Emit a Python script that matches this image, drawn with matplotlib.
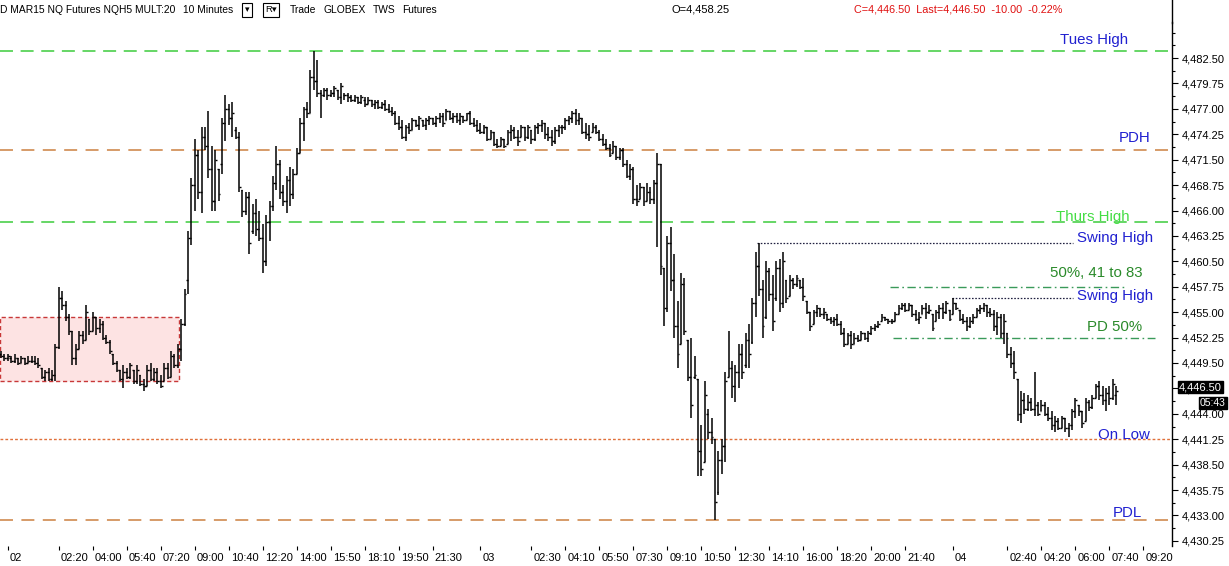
import matplotlib
matplotlib.use("Agg")
import matplotlib.pyplot as plt
import matplotlib.transforms as mtransforms
from matplotlib.lines import Line2D
from matplotlib.patches import Rectangle

plt.rcParams["font.family"] = ["Liberation Sans", "DejaVu Sans"]

# 10 minute bars, NQ Mar15
opens = [
    4450.5, 4450.25, 4450.0, 4450.0, 4449.75, 4450.0, 4449.5, 4450.0, 4449.5, 4449.75,
    4449.75, 4449.5, 4449.0, 4448.0, 4448.5, 4447.75, 4448.25, 4451.25, 4456.5, 4455.75,
    4454.5, 4453.0, 4450.0, 4451.0, 4452.5, 4452.0, 4454.25, 4453.0, 4454.5, 4453.25,
    4453.75, 4452.25, 4451.75, 4450.5, 4449.5, 4448.75, 4447.75, 4448.5, 4448.0, 4448.75,
    4447.5, 4448.25, 4447.25, 4447.0, 4448.75, 4447.75, 4448.5, 4447.5, 4447.5, 4449.0,
    4448.0, 4450.25, 4449.25, 4451.0, 4453.75, 4458.5, 4463.0, 4468.75, 4472.0, 4468.0,
    4474.0, 4473.0, 4470.5, 4467.0, 4470.5, 4471.0, 4475.5, 4477.0, 4476.0, 4474.75,
    4474.0, 4468.25, 4466.0, 4467.5, 4463.75, 4465.75, 4464.0, 4463.0, 4460.5, 4464.75,
    4466.5, 4469.0, 4471.0, 4468.0, 4467.0, 4469.25, 4467.75, 4470.0, 4472.25, 4475.5,
    4477.0, 4476.5, 4480.5, 4480.0, 4478.75, 4478.5, 4479.0, 4478.5, 4478.75, 4479.0,
    4478.25, 4478.5, 4478.5, 4478.25, 4478.0, 4478.25, 4477.75, 4478.0, 4477.5, 4478.0,
    4477.5, 4477.75, 4477.25, 4477.5, 4477.0, 4476.75, 4476.5, 4475.5, 4475.0, 4474.0,
    4475.0, 4474.75, 4475.75, 4475.25, 4475.75, 4475.25, 4475.75, 4476.0, 4475.5, 4476.0,
    4476.25, 4475.75, 4476.75, 4476.0, 4476.25, 4475.75, 4476.25, 4475.75, 4476.5, 4475.5,
    4475.25, 4474.75, 4474.5, 4475.0, 4473.75, 4474.5, 4473.25, 4473.0, 4473.75, 4473.25,
    4474.5, 4474.75, 4474.0, 4474.0, 4475.0, 4474.0, 4474.75, 4473.75, 4475.0, 4475.25,
    4475.5, 4474.25, 4474.0, 4473.5, 4474.75, 4475.0, 4475.0, 4475.75, 4476.0, 4476.5,
    4475.75, 4476.0, 4474.5, 4474.25, 4474.5, 4475.0, 4474.5, 4473.75, 4473.25, 4472.75,
    4472.25, 4473.0, 4471.75, 4472.5, 4471.0, 4469.75, 4470.5, 4467.25, 4467.25, 4468.5,
    4467.0, 4468.0, 4467.25, 4469.0, 4471.0, 4459.75, 4455.5, 4462.5, 4458.5, 4453.5,
    4451.5, 4458.0, 4452.0, 4448.0, 4448.0, 4447.75, 4440.0, 4438.75, 4444.0, 4442.0,
    4441.25, 4435.5, 4439.0, 4440.5, 4448.0, 4449.0, 4447.0, 4448.5, 4450.5, 4449.25,
    4452.0, 4451.75, 4456.0, 4460.0, 4457.5, 4454.5, 4459.5, 4457.0, 4456.5, 4459.75,
    4456.0, 4458.5, 4456.75, 4458.5, 4458.0, 4458.5, 4457.75, 4456.25, 4455.0, 4453.75,
    4455.0, 4455.5, 4454.75, 4454.75, 4454.25, 4454.0, 4454.25, 4453.75, 4452.75, 4451.5,
    4452.5, 4451.5, 4452.25, 4452.0, 4452.75, 4452.25, 4452.75, 4453.25, 4453.5, 4454.0,
    4454.5, 4454.25, 4454.0, 4454.0, 4454.75, 4455.5, 4455.75, 4455.25, 4455.75, 4454.75,
    4454.25, 4454.75, 4455.5, 4455.0, 4454.75, 4454.0, 4455.0, 4455.5, 4455.0, 4455.25,
    4454.75, 4456.0, 4455.25, 4454.25, 4454.0, 4453.5, 4454.0, 4454.5, 4455.25, 4455.5,
    4455.75, 4455.0, 4454.75, 4453.5, 4454.5, 4452.75, 4452.75, 4450.5, 4449.5, 4447.75,
    4444.0, 4445.5, 4444.5, 4445.25, 4444.5, 4445.0, 4444.25, 4445.0, 4444.0, 4443.5,
    4442.75, 4443.25, 4442.5, 4443.5, 4442.5, 4442.75, 4444.25, 4445.0, 4444.25, 4443.25,
    4445.25, 4444.75, 4445.75, 4447.0, 4446.0, 4445.5, 4446.25, 4445.75, 4446.0,
]
highs = [
    4450.75, 4450.5, 4450.5, 4450.25, 4450.5, 4450.0, 4450.25, 4450.0, 4450.25, 4450.25,
    4450.25, 4450.0, 4449.0, 4448.75, 4449.0, 4448.75, 4451.5, 4457.75, 4457.25, 4456.25,
    4454.75, 4453.0, 4451.5, 4453.0, 4453.0, 4455.75, 4454.25, 4455.0, 4454.5, 4454.25,
    4454.0, 4452.5, 4452.0, 4450.5, 4449.75, 4448.75, 4449.25, 4449.0, 4449.5, 4448.75,
    4449.25, 4448.25, 4447.75, 4449.25, 4449.5, 4449.0, 4449.0, 4448.25, 4449.5, 4449.5,
    4450.75, 4450.5, 4451.5, 4454.25, 4457.5, 4463.75, 4469.5, 4473.75, 4472.5, 4475.0,
    4475.0, 4476.75, 4473.0, 4472.5, 4470.5, 4476.0, 4478.5, 4477.5, 4477.75, 4475.0,
    4474.5, 4468.25, 4468.0, 4468.0, 4466.75, 4467.25, 4466.0, 4464.5, 4465.5, 4467.0,
    4469.75, 4473.0, 4471.5, 4468.75, 4469.75, 4470.75, 4470.5, 4472.75, 4476.0, 4477.25,
    4477.75, 4481.25, 4483.25, 4482.25, 4479.0, 4479.25, 4479.25, 4479.0, 4479.5, 4479.0,
    4479.75, 4478.75, 4478.75, 4478.5, 4478.5, 4478.25, 4478.5, 4478.25, 4478.25, 4478.0,
    4478.0, 4478.0, 4477.75, 4478.0, 4477.5, 4477.25, 4476.75, 4476.25, 4475.75, 4475.25,
    4475.5, 4476.0, 4475.75, 4476.25, 4475.75, 4476.0, 4476.25, 4476.0, 4476.25, 4476.5,
    4476.5, 4477.0, 4476.75, 4476.5, 4476.5, 4476.5, 4476.25, 4476.5, 4476.75, 4476.0,
    4475.75, 4475.5, 4475.25, 4475.0, 4474.75, 4474.5, 4473.75, 4474.0, 4473.75, 4474.75,
    4475.25, 4475.0, 4474.75, 4475.25, 4475.0, 4475.25, 4474.75, 4475.25, 4475.5, 4475.75,
    4475.5, 4475.0, 4474.75, 4475.0, 4475.25, 4475.25, 4476.0, 4476.25, 4476.75, 4477.0,
    4476.5, 4476.0, 4475.5, 4475.25, 4475.5, 4475.25, 4474.75, 4474.25, 4473.75, 4473.25,
    4473.5, 4473.0, 4472.75, 4472.75, 4471.5, 4471.0, 4470.75, 4468.75, 4469.0, 4468.5,
    4469.0, 4468.5, 4469.25, 4472.25, 4471.0, 4459.75, 4463.25, 4464.25, 4461.25, 4456.25,
    4459.25, 4458.75, 4452.0, 4452.25, 4450.25, 4447.75, 4442.75, 4447.5, 4444.5, 4443.5,
    4441.25, 4440.0, 4441.25, 4448.5, 4453.0, 4449.75, 4449.25, 4451.5, 4451.5, 4452.75,
    4453.75, 4456.5, 4461.5, 4462.5, 4458.5, 4460.5, 4459.75, 4459.0, 4460.5, 4460.75,
    4461.5, 4458.5, 4459.0, 4458.75, 4459.0, 4458.5, 4458.75, 4456.25, 4455.0, 4455.25,
    4455.75, 4455.5, 4455.5, 4454.75, 4454.5, 4454.5, 4454.75, 4454.0, 4453.25, 4452.75,
    4453.0, 4452.75, 4452.5, 4453.0, 4452.75, 4453.0, 4453.5, 4453.75, 4454.0, 4454.75,
    4454.5, 4454.25, 4454.25, 4455.0, 4455.75, 4456.0, 4456.0, 4456.0, 4455.75, 4455.25,
    4455.0, 4455.75, 4456.0, 4455.75, 4454.75, 4455.25, 4455.75, 4456.0, 4456.25, 4455.25,
    4456.5, 4456.0, 4455.25, 4454.75, 4454.5, 4454.5, 4454.75, 4455.5, 4455.75, 4456.0,
    4455.75, 4455.5, 4455.25, 4455.0, 4454.75, 4454.75, 4452.75, 4451.25, 4450.75, 4447.75,
    4446.5, 4446.25, 4446.0, 4445.75, 4448.5, 4445.25, 4445.5, 4445.25, 4444.75, 4444.25,
    4443.75, 4443.5, 4443.75, 4443.5, 4443.0, 4444.5, 4445.75, 4445.0, 4444.25, 4445.75,
    4445.5, 4446.0, 4447.25, 4447.5, 4447.0, 4446.75, 4447.0, 4447.75, 4447.0,
]
lows = [
    4450.0, 4449.75, 4449.75, 4449.5, 4449.5, 4449.25, 4449.5, 4449.25, 4449.5, 4449.5,
    4449.25, 4449.0, 4447.75, 4447.5, 4447.5, 4447.5, 4447.5, 4451.0, 4455.25, 4454.0,
    4452.5, 4449.25, 4449.25, 4451.0, 4451.5, 4452.0, 4452.5, 4453.0, 4452.5, 4452.75,
    4452.0, 4451.5, 4450.5, 4449.25, 4448.5, 4447.5, 4446.75, 4447.75, 4447.75, 4447.25,
    4447.25, 4447.0, 4446.5, 4447.0, 4447.5, 4447.5, 4447.25, 4446.75, 4447.5, 4447.75,
    4448.0, 4449.0, 4449.0, 4449.75, 4453.5, 4457.0, 4462.25, 4466.0, 4467.25, 4465.75,
    4472.5, 4469.5, 4466.0, 4466.0, 4467.0, 4470.0, 4473.5, 4475.25, 4474.0, 4473.75,
    4468.0, 4465.25, 4465.5, 4461.25, 4463.5, 4463.25, 4462.75, 4459.25, 4460.0, 4462.75,
    4466.0, 4468.25, 4467.25, 4466.5, 4465.75, 4466.5, 4467.25, 4470.0, 4472.25, 4473.5,
    4476.0, 4476.5, 4479.0, 4478.25, 4476.0, 4478.25, 4478.0, 4478.25, 4478.25, 4478.0,
    4477.5, 4478.0, 4477.75, 4477.75, 4477.75, 4477.5, 4477.5, 4477.25, 4477.5, 4477.25,
    4477.0, 4477.0, 4477.0, 4476.75, 4476.5, 4476.25, 4475.25, 4474.75, 4473.75, 4473.5,
    4474.25, 4474.75, 4475.0, 4474.75, 4475.0, 4474.75, 4475.25, 4475.25, 4475.0, 4475.5,
    4475.0, 4475.75, 4475.75, 4475.5, 4475.5, 4475.25, 4475.5, 4475.75, 4475.25, 4475.0,
    4474.5, 4474.25, 4474.25, 4473.5, 4473.75, 4473.0, 4472.75, 4473.0, 4472.75, 4473.25,
    4473.5, 4473.75, 4473.0, 4474.0, 4473.5, 4473.75, 4473.25, 4473.5, 4474.25, 4474.5,
    4473.75, 4473.5, 4473.0, 4473.25, 4474.0, 4474.25, 4474.75, 4475.25, 4475.5, 4475.25,
    4475.25, 4474.25, 4473.75, 4473.5, 4474.5, 4474.25, 4473.5, 4473.0, 4472.5, 4471.75,
    4472.25, 4471.5, 4471.5, 4470.75, 4469.5, 4469.25, 4466.75, 4466.5, 4467.25, 4466.5,
    4467.0, 4466.75, 4466.75, 4462.0, 4459.0, 4453.5, 4455.0, 4457.25, 4452.25, 4449.0,
    4451.5, 4452.5, 4447.5, 4443.5, 4447.75, 4437.25, 4437.25, 4438.75, 4441.25, 4440.75,
    4432.5, 4435.25, 4437.5, 4438.75, 4448.0, 4445.75, 4445.25, 4446.75, 4447.75, 4449.0,
    4449.0, 4451.5, 4454.5, 4456.75, 4452.25, 4454.25, 4456.25, 4453.0, 4456.25, 4455.0,
    4455.5, 4456.0, 4456.75, 4457.5, 4457.75, 4457.5, 4456.25, 4454.75, 4453.0, 4453.75,
    4454.5, 4454.5, 4454.25, 4454.0, 4453.75, 4453.5, 4453.5, 4452.5, 4451.25, 4451.5,
    4451.0, 4451.5, 4451.75, 4452.0, 4452.0, 4451.75, 4452.5, 4453.0, 4453.25, 4454.0,
    4454.0, 4453.75, 4453.75, 4454.0, 4454.75, 4455.25, 4455.0, 4455.25, 4454.5, 4454.0,
    4453.75, 4454.75, 4454.25, 4454.75, 4453.0, 4454.0, 4454.25, 4454.25, 4454.75, 4454.0,
    4454.75, 4455.25, 4454.0, 4453.75, 4453.0, 4453.25, 4453.75, 4454.5, 4454.75, 4455.0,
    4454.5, 4454.5, 4453.0, 4452.5, 4452.25, 4451.5, 4450.0, 4449.0, 4447.75, 4443.25,
    4443.0, 4444.0, 4444.25, 4444.25, 4443.75, 4443.75, 4444.25, 4443.75, 4443.25, 4442.25,
    4442.0, 4442.25, 4442.5, 4442.0, 4441.5, 4442.25, 4443.5, 4443.75, 4442.5, 4443.25,
    4444.25, 4444.5, 4445.75, 4445.5, 4445.0, 4444.25, 4445.0, 4445.5, 4445.0,
]
closes = [
    4450.25, 4450.0, 4450.25, 4449.75, 4450.0, 4449.5, 4450.0, 4449.5, 4449.75, 4449.75,
    4449.5, 4449.25, 4448.0, 4448.5, 4447.75, 4448.25, 4451.25, 4456.5, 4455.75, 4454.5,
    4453.0, 4450.0, 4451.0, 4452.5, 4452.0, 4455.0, 4453.0, 4454.5, 4453.25, 4453.75,
    4452.25, 4451.75, 4450.75, 4449.5, 4448.75, 4447.75, 4448.5, 4448.0, 4449.25, 4447.5,
    4448.75, 4447.25, 4447.0, 4448.75, 4447.75, 4448.5, 4447.5, 4447.0, 4449.0, 4448.0,
    4450.25, 4449.25, 4451.0, 4453.75, 4457.0, 4463.0, 4468.75, 4472.0, 4468.0, 4474.0,
    4473.0, 4470.5, 4467.0, 4471.5, 4467.75, 4475.5, 4477.0, 4476.0, 4476.5, 4474.0,
    4468.5, 4466.0, 4467.5, 4462.5, 4465.75, 4464.0, 4463.0, 4460.5, 4464.75, 4466.5,
    4469.0, 4471.0, 4468.0, 4467.0, 4469.25, 4467.75, 4470.0, 4472.25, 4475.5, 4477.0,
    4476.5, 4480.5, 4480.0, 4478.75, 4478.5, 4479.0, 4478.5, 4478.75, 4479.25, 4478.25,
    4479.5, 4478.5, 4478.25, 4478.0, 4478.25, 4477.75, 4478.25, 4477.5, 4478.0, 4477.5,
    4477.75, 4477.25, 4477.5, 4477.0, 4476.75, 4476.5, 4475.5, 4475.0, 4474.0, 4475.0,
    4474.75, 4475.75, 4475.25, 4476.0, 4475.25, 4475.75, 4476.0, 4475.5, 4476.0, 4476.25,
    4475.5, 4476.75, 4476.0, 4476.25, 4475.75, 4476.25, 4475.75, 4476.5, 4475.5, 4475.25,
    4474.75, 4474.5, 4475.0, 4473.75, 4474.5, 4473.25, 4473.0, 4473.75, 4473.0, 4474.5,
    4474.75, 4474.0, 4473.5, 4475.0, 4474.0, 4475.0, 4473.75, 4475.0, 4475.25, 4475.5,
    4474.25, 4474.0, 4473.5, 4474.75, 4475.0, 4475.0, 4475.75, 4476.0, 4476.5, 4475.75,
    4476.0, 4474.5, 4474.25, 4474.0, 4475.0, 4474.5, 4473.75, 4473.25, 4472.75, 4472.0,
    4473.0, 4471.75, 4472.5, 4471.0, 4469.75, 4470.5, 4467.25, 4467.0, 4468.5, 4467.0,
    4468.0, 4467.25, 4469.0, 4471.0, 4460.0, 4455.5, 4462.5, 4458.5, 4453.5, 4450.5,
    4458.0, 4453.0, 4448.0, 4445.0, 4448.25, 4440.0, 4438.0, 4446.0, 4442.0, 4441.5,
    4434.5, 4439.0, 4440.5, 4447.5, 4449.0, 4447.0, 4448.5, 4450.5, 4448.5, 4452.0,
    4450.5, 4456.0, 4460.0, 4457.5, 4453.5, 4459.5, 4457.0, 4454.0, 4459.75, 4456.0,
    4460.5, 4456.5, 4458.5, 4458.0, 4458.75, 4457.75, 4456.75, 4455.0, 4453.5, 4455.0,
    4455.5, 4454.75, 4455.0, 4454.25, 4454.0, 4454.25, 4453.75, 4452.75, 4451.5, 4452.5,
    4451.5, 4452.25, 4452.0, 4452.75, 4452.25, 4452.75, 4453.25, 4453.5, 4453.75, 4454.5,
    4454.25, 4454.0, 4454.0, 4454.75, 4455.5, 4455.75, 4455.25, 4455.75, 4454.75, 4454.25,
    4454.5, 4455.5, 4455.0, 4455.25, 4453.25, 4455.0, 4455.5, 4455.0, 4456.0, 4454.25,
    4456.0, 4455.5, 4454.25, 4454.0, 4453.5, 4454.0, 4454.5, 4455.25, 4455.5, 4455.75,
    4455.0, 4454.75, 4453.5, 4454.5, 4452.75, 4454.0, 4450.5, 4449.5, 4448.5, 4444.0,
    4445.5, 4444.5, 4445.25, 4444.5, 4445.0, 4444.0, 4445.0, 4444.0, 4443.5, 4442.75,
    4443.25, 4442.5, 4443.5, 4442.5, 4442.75, 4444.25, 4445.5, 4444.25, 4443.0, 4445.25,
    4444.75, 4445.75, 4447.0, 4446.0, 4445.5, 4446.25, 4445.75, 4447.25, 4446.5,
]

# time axis labels (bar index of each label)
tick_pos = [2, 17, 27, 37, 47, 57, 67, 77, 87, 97, 107, 117, 127, 141,
            156, 166, 176, 186, 196, 206, 216, 226, 236, 246, 256, 266, 280,
            296, 306, 316, 326, 336]
tick_labels = ["02", "02:20", "04:00", "05:40", "07:20", "09:00", "10:40", "12:20",
               "14:00", "15:50", "18:10", "19:50", "21:30", "03",
               "02:30", "04:10", "05:50", "07:30", "09:10", "10:50", "12:30", "14:10",
               "16:00", "18:20", "20:00", "21:40", "04",
               "02:40", "04:20", "06:00", "07:40", "09:20"]

# reference levels
tues_high = 4483.25
pdh = 4472.5
thurs_high = 4464.75
swing_high_1 = 4462.5
fifty_41_83 = 4457.75
swing_high_2 = 4456.5
pd_50 = 4452.25
on_low = 4441.25
pdl = 4432.5

# overnight range box
box_top = 4454.5
box_bottom = 4447.5

last_price = 4446.50

fig = plt.figure(figsize=(12.29, 5.66), dpi=100)
ax = fig.add_axes([0.0, 0.0353, 0.9536, 0.9258])
ax.set_xlim(-0.3, 344.4)
ax.set_ylim(4429.69, 4486.4)

n = len(highs)
xs = list(range(n))

# overnight box
ax.add_patch(Rectangle((-0.3, box_bottom), 52.7, box_top - box_bottom,
                       facecolor="#fde3e3", edgecolor="#c83838", lw=1.0,
                       linestyle=(0, (3, 2)), zorder=1))

# level lines
full = (-0.3, 344.4)
ax.plot(full, [tues_high] * 2, color="#3ccc3c", lw=1.1, dashes=(8.5, 5), zorder=2)
ax.plot(full, [thurs_high] * 2, color="#3ccc3c", lw=1.1, dashes=(8.5, 5), zorder=2)
ax.plot(full, [pdh] * 2, color="#cc8040", lw=1.1, dashes=(8.5, 5.5), zorder=2)
ax.plot(full, [pdl] * 2, color="#cc8040", lw=1.1, dashes=(8.5, 5.5), zorder=2)
ax.plot(full, [on_low] * 2, color="#e0703a", lw=1.0, dashes=(2, 1.5), zorder=2)
ax.plot([222.4, 315.3], [swing_high_1] * 2, color="#202040", lw=0.9, dashes=(1.3, 1.3), zorder=2)
ax.plot([279.7, 315.3], [swing_high_2] * 2, color="#202040", lw=0.9, dashes=(1.3, 1.3), zorder=2)
ax.plot([261.5, 330.6], [fifty_41_83] * 2, color="#3a9a5a", lw=1.0, dashes=(6, 2.5, 1.2, 2.5), zorder=2)
ax.plot([262.4, 339.4], [pd_50] * 2, color="#3a9a5a", lw=1.0, dashes=(6, 2.5, 1.2, 2.5), zorder=2)

# OHLC bars
ax.vlines(xs, lows, highs, color="black", lw=1.1, zorder=3)
ax.hlines(opens, [x - 0.55 for x in xs], xs, color="black", lw=1.0, zorder=3)
ax.hlines(closes, xs, [x + 0.55 for x in xs], color="black", lw=1.0, zorder=3)

# level labels
lab_fs = 10.8
blue = "#2020d0"
ax.text(331.5, 4484.45, "Tues High", color=blue, fontsize=lab_fs, ha="right", va="center")
ax.text(338.0, 4473.84, "PDH", color=blue, fontsize=lab_fs, ha="right", va="center")
ax.text(332.0, 4465.29, "Thurs High", color="#44dd44", fontsize=lab_fs, ha="right", va="center")
ax.text(338.8, 4463.02, "Swing High", color=blue, fontsize=lab_fs, ha="right", va="center")
ax.text(335.6, 4459.23, "50%, 41 to 83", color="#2a8a2a", fontsize=lab_fs, ha="right", va="center")
ax.text(338.8, 4456.74, "Swing High", color=blue, fontsize=lab_fs, ha="right", va="center")
ax.text(335.6, 4453.39, "PD 50%", color="#2a8a2a", fontsize=lab_fs, ha="right", va="center")
ax.text(338.0, 4441.70, "On Low", color=blue, fontsize=lab_fs, ha="right", va="center")
ax.text(335.6, 4433.26, "PDL", color=blue, fontsize=lab_fs, ha="right", va="center")

# axes styling
for side in ["top", "left", "bottom"]:
    ax.spines[side].set_visible(False)
ax.spines["right"].set_color("black")
ax.spines["right"].set_linewidth(1.0)

ax.yaxis.tick_right()
yt = [4430.25 + 2.75 * k for k in range(20)]
ax.set_yticks(yt)
ax.set_yticklabels([f"{v:,.2f}" for v in yt])
ax.set_yticks([4430.25 + 1.375 * k for k in range(41)], minor=True)
ax.tick_params(axis="y", which="major", length=4, width=0.8, pad=3, labelsize=8, colors="black")
ax.tick_params(axis="y", which="minor", length=2, width=0.8)

ax.set_xticks(tick_pos)
ax.set_xticklabels(tick_labels, ha="left")
ax.tick_params(axis="x", length=3, width=0.8, pad=2, labelsize=8)
shift = mtransforms.ScaledTranslation(2 / 100, 0, fig.dpi_scale_trans)
for lbl in ax.get_xticklabels():
    lbl.set_transform(lbl.get_transform() + shift)

# axis line continues into header
fig.add_artist(Line2D([0.9536, 0.9536], [0.96, 1.0], color="black", lw=1.0))

# header
hy = 1 - 10 / 566
hfs = 7.4
fig.text(0.0, hy, "D MAR15 NQ Futures NQH5 MULT:20", fontsize=hfs, va="center")
fig.text(183 / 1229, hy, "10 Minutes", fontsize=hfs, va="center")
fig.text(245 / 1229, hy, "▾", fontsize=6.5, va="center",
         bbox=dict(boxstyle="square,pad=0.3", fc="white", ec="black", lw=0.8))
fig.text(265 / 1229, hy, "R▾", fontsize=6.8, va="center",
         bbox=dict(boxstyle="square,pad=0.25", fc="white", ec="black", lw=0.8))
fig.text(290 / 1229, hy, "Trade", fontsize=hfs, va="center")
fig.text(324 / 1229, hy, "GLOBEX", fontsize=hfs, va="center")
fig.text(373 / 1229, hy, "TWS", fontsize=hfs, va="center")
fig.text(402 / 1229, hy, "Futures", fontsize=hfs, va="center")
fig.text(671 / 1229, hy, "O=4,458.25", fontsize=8, va="center")
fig.text(854 / 1229, hy, "C=4,446.50  Last=4,446.50  -10.00  -0.22%",
         fontsize=7.8, va="center", color="#e01010")

# last price marker on the price axis
fig.text(1179 / 1229, 1 - 387 / 566, f"{last_price:,.2f}", fontsize=8, color="white",
         va="center", ha="left",
         bbox=dict(boxstyle="square,pad=0.1", fc="black", ec="black"))
fig.text(1200 / 1229, 1 - 403 / 566, "05:43", fontsize=7.5, color="white",
         va="center", ha="left",
         bbox=dict(boxstyle="square,pad=0.06", fc="black", ec="black"))

fig.savefig("out.png", dpi=100)
